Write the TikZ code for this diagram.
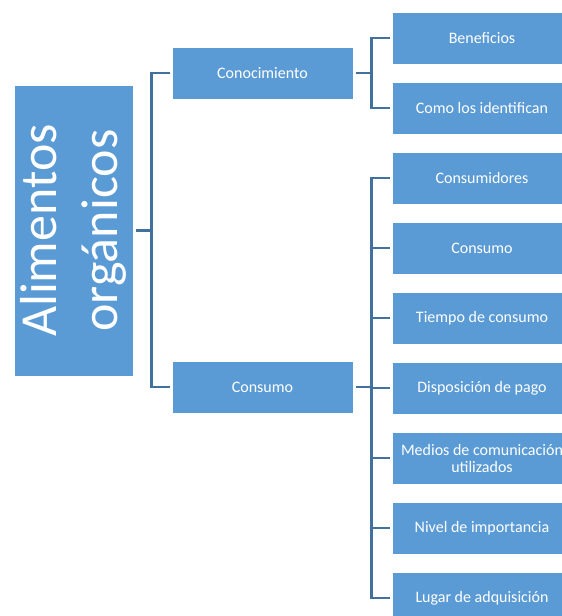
\documentclass[tikz,border=0pt]{standalone}
\usepackage{fontspec}
\setmainfont{Carlito}
\usepackage{tikz}
\usetikzlibrary{positioning}
\definecolor{boxcolor}{RGB}{91,155,213}
\definecolor{linecolor}{RGB}{65,113,156}

\begin{document}
\begin{tikzpicture}[x=1pt, y=-1pt,
    rootbox/.style={draw=white, line width=0.8pt, fill=boxcolor, text=white, minimum width=291pt, minimum height=119pt, align=center, font=\fontsize{52}{61}\selectfont, outer sep=2.5pt},
    topic/.style={draw=white, line width=0.8pt, fill=boxcolor, text=white, minimum width=181pt, minimum height=52pt, align=center, font=\fontsize{16}{17}\selectfont, outer sep=2.5pt},
    item/.style={topic, minimum width=180pt},
    link/.style={draw=linecolor, line width=2.4pt}
]
\useasboundingbox (0,0) rectangle (562,616);
\clip (0,0) rectangle (562,616);

% Main topic (rotated, so its south side faces right)
\node[rootbox, rotate=90] (root) at (73.5,230.5) {Alimentos\\orgánicos};

% Second level
\node[topic] (cono) at (262.5,73) {Conocimiento};
\node[topic] (cons) at (262.5,387) {Consumo};

% Third level
\node[item] (benef) at (482,38) {Beneficios};
\node[item] (ident) at (482,108) {Como los identifican};
\foreach \txt [count=\i] in {Consumidores, Consumo, Tiempo de consumo, Disposición de pago, {Medios de comunicación\\utilizados}, Nivel de importancia, Lugar de adquisición}
    \node[item] (c\i) at (482,{108+70*\i}) {\txt};

% Branches
\coordinate (rootfork) at ([xshift=16pt]root.south);
\coordinate (conofork) at ([xshift=16pt]cono.east);
\coordinate (consfork) at ([xshift=16pt]cons.east);

\draw[link] (root.south) -- (rootfork);
\draw[link] (rootfork) |- (cono.west);
\draw[link] (rootfork) |- (cons.west);

\draw[link] (cono.east) -- (conofork);
\draw[link] (conofork) |- (benef.west);
\draw[link] (conofork) |- (ident.west);

\draw[link] (cons.east) -- (consfork);
\foreach \i in {1,...,7}
    \draw[link] (consfork) |- (c\i.west);

\end{tikzpicture}
\end{document}
